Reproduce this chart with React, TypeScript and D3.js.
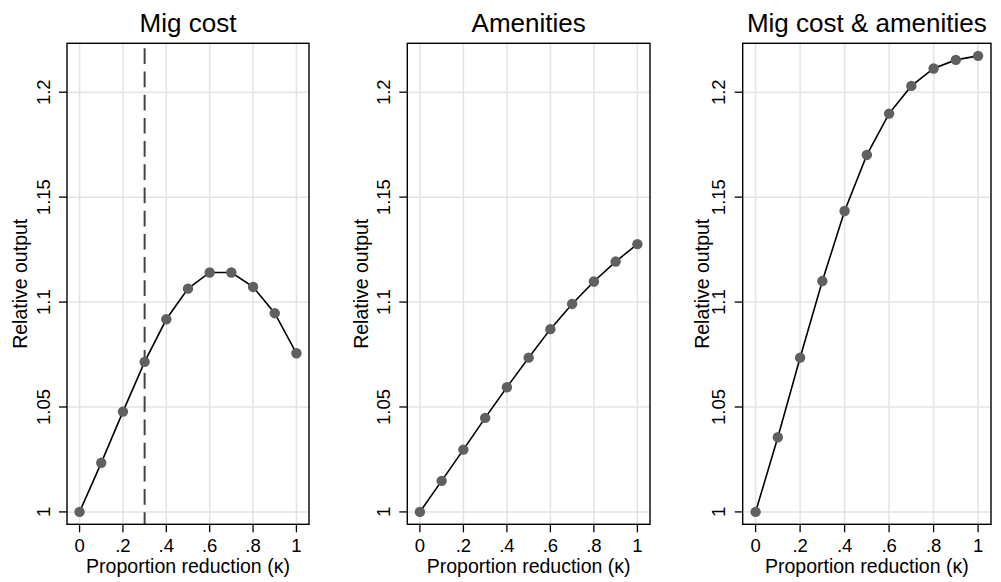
import * as d3 from 'd3';

// proportion reduction (kappa)
const kappa = [0, 0.1, 0.2, 0.3, 0.4, 0.5, 0.6, 0.7, 0.8, 0.9, 1];

const migCost = [1.0, 1.0234, 1.0478, 1.0715, 1.0918, 1.1064, 1.1141, 1.1141, 1.1072, 1.0947, 1.0756];
const amenities = [1.0, 1.0148, 1.0297, 1.0448, 1.0594, 1.0735, 1.0871, 1.0991, 1.1098, 1.1193, 1.1276];
const both = [1.0, 1.0356, 1.0735, 1.1100, 1.1434, 1.1701, 1.1898, 1.2030, 1.2113, 1.2154, 1.2173];

const panelTitles = ['Mig cost', 'Amenities', 'Mig cost & amenities'];
const xTicks = [0, 0.2, 0.4, 0.6, 0.8, 1];
const xTickLabels = ['0', '.2', '.4', '.6', '.8', '1'];
const yTicks = [1, 1.05, 1.1, 1.15, 1.2];
const yTickLabels = ['1', '1.05', '1.1', '1.15', '1.2'];
const cutoff = 0.3; // dashed reference line, first panel only

const W = 1001;
const H = 582;
const FONT = '"Liberation Sans", Arial, Helvetica, sans-serif';

// plot frames (left, right) and y-title offset per panel
const panels = [
  { series: migCost, left: 67, right: 309, titleX: 27.3, tickX: 50, dashed: true },
  { series: amenities, left: 407.3, right: 650, titleX: 368.3, tickX: 390, dashed: false },
  { series: both, left: 742.7, right: 991, titleX: 709.3, tickX: 725, dashed: false },
];

const top = 43.3;
const bottom = 524.3;

const yScale = d3.scaleLinear().domain([0.9941, 1.2233]).range([bottom, top]);

function Panel({ p, title }: { p: (typeof panels)[number]; title: string }) {
  const x = d3.scaleLinear().domain([-0.058, 1.058]).range([p.left, p.right]);
  const line = d3
    .line<number>()
    .x((_, i) => x(kappa[i]))
    .y((d) => yScale(d));
  const cx = (p.left + p.right) / 2;
  const cy = (top + bottom) / 2;

  return (
    <g>
      {/* grid */}
      {xTicks.map((t) => (
        <line key={'gx' + t} x1={x(t)} x2={x(t)} y1={top} y2={bottom} stroke="#e3e3e3" strokeWidth={1.5} />
      ))}
      {yTicks.map((t) => (
        <line key={'gy' + t} x1={p.left} x2={p.right} y1={yScale(t)} y2={yScale(t)} stroke="#e3e3e3" strokeWidth={1.5} />
      ))}

      {p.dashed && (
        <line
          x1={x(cutoff)}
          x2={x(cutoff)}
          y1={top + 5}
          y2={bottom}
          stroke="#444"
          strokeWidth={2}
          strokeDasharray="15.7,7.5"
        />
      )}

      <path d={line(p.series) || ''} fill="none" stroke="#000" strokeWidth={1.6} />
      {p.series.map((v, i) => (
        <circle key={i} cx={x(kappa[i])} cy={yScale(v)} r={5.2} fill="#606060" />
      ))}

      {/* frame */}
      <rect x={p.left} y={top} width={p.right - p.left} height={bottom - top} fill="none" stroke="#000" strokeWidth={1.4} />

      {/* x axis */}
      {xTicks.map((t, i) => (
        <g key={'xt' + t}>
          <line x1={x(t)} x2={x(t)} y1={bottom} y2={bottom + 8} stroke="#000" strokeWidth={1.3} />
          <text x={x(t)} y={551.5} textAnchor="middle" fontSize={18.5} fontFamily={FONT}>
            {xTickLabels[i]}
          </text>
        </g>
      ))}
      <text x={cx} y={573} textAnchor="middle" fontSize={19.5} fontFamily={FONT}>
        Proportion reduction (κ)
      </text>

      {/* y axis */}
      {yTicks.map((t, i) => (
        <g key={'yt' + t}>
          <line x1={p.left - 8} x2={p.left} y1={yScale(t)} y2={yScale(t)} stroke="#000" strokeWidth={1.3} />
          <text
            transform={`translate(${p.tickX},${yScale(t)}) rotate(-90)`}
            textAnchor="middle"
            fontSize={18.5}
            fontFamily={FONT}
          >
            {yTickLabels[i]}
          </text>
        </g>
      ))}
      <text
        transform={`translate(${p.titleX},${cy}) rotate(-90)`}
        textAnchor="middle"
        fontSize={19.5}
        fontFamily={FONT}
      >
        Relative output
      </text>

      <text x={cx} y={32} textAnchor="middle" fontSize={26} fontFamily={FONT}>
        {title}
      </text>
    </g>
  );
}

export default function App() {
  return (
    <svg
      width={W}
      height={H}
      viewBox={`0 0 ${W} ${H}`}
      style={{ position: 'absolute', left: 0, top: 0, background: '#fff' }}
    >
      <rect width={W} height={H} fill="#fff" />
      {panels.map((p, i) => (
        <Panel key={i} p={p} title={panelTitles[i]} />
      ))}
    </svg>
  );
}
